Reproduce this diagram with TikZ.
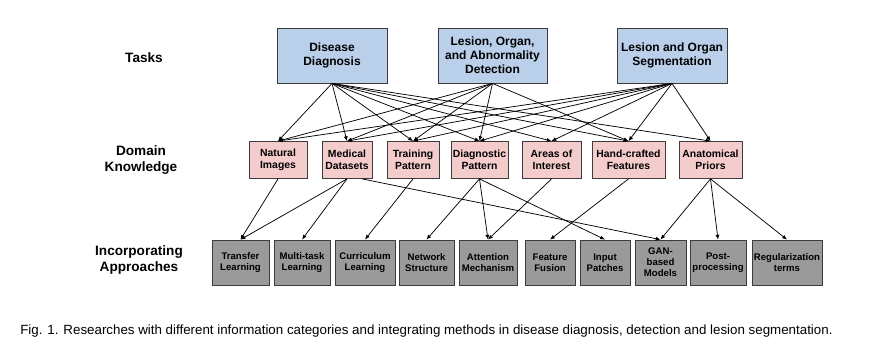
\documentclass[tikz,border=0pt]{standalone}
\usepackage{fontspec}
\setmainfont{Liberation Sans}
\usetikzlibrary{arrows.meta,calc}
\definecolor{taskblue}{HTML}{BACFEA}
\definecolor{knowpink}{HTML}{F4CCCC}
\definecolor{appgray}{HTML}{9A9A9A}
\definecolor{boxline}{HTML}{3C3C3C}
\begin{document}
\begin{tikzpicture}[x=0.75pt,y=-0.75pt,
  basebox/.style={draw=boxline, line width=0.6pt, inner sep=0pt, align=center},
  taskbox/.style={basebox, fill=taskblue, minimum height=55*0.75pt, font=\bfseries\fontsize{9}{10.5}\selectfont},
  knowbox/.style={basebox, fill=knowpink, minimum height=37*0.75pt, font=\bfseries\fontsize{7.8}{8.8}\selectfont},
  appbox/.style={basebox, fill=appgray, minimum height=45*0.75pt, font=\bfseries\fontsize{7.2}{8.3}\selectfont},
  rowlabel/.style={align=center, font=\bfseries\fontsize{10.2}{12.5}\selectfont},
  conn/.style={-{Latex[length=3.6pt,width=3pt]}, line width=0.55pt, black}
]
\fill[white] (0,0) rectangle (881,354);
\useasboundingbox (0,0) rectangle (881,354);

% row labels
\node[rowlabel] (lt) at (144,58) {Tasks};
\node[rowlabel] (lk) at (141,160) {Domain\\Knowledge};
\node[rowlabel] (la) at (139,260) {Incorporating\\Approaches};

% tasks
\node[taskbox, minimum width=110*0.75pt] (dd) at (332,55.5) {Disease\\Diagnosis};
\node[taskbox, minimum width=109*0.75pt] (lod) at (492.5,55.5) {Lesion, Organ,\\and Abnormality\\Detection};
\node[taskbox, minimum width=110*0.75pt] (seg) at (672,55.5) {Lesion and Organ\\Segmentation};

% domain knowledge
\node[knowbox, minimum width=58*0.75pt] (nat) at (278,160) {Natural\\Images};
\node[knowbox, minimum width=50*0.75pt] (med) at (347,160) {Medical\\Datasets};
\node[knowbox, minimum width=52*0.75pt] (trn) at (413,160) {Training\\Pattern};
\node[knowbox, minimum width=57*0.75pt] (dia) at (479.5,160) {Diagnostic\\Pattern};
\node[knowbox, minimum width=59*0.75pt] (aoi) at (551.5,160) {Areas of\\Interest};
\node[knowbox, minimum width=73*0.75pt] (hcf) at (628.5,160) {Hand-crafted\\Features};
\node[knowbox, minimum width=63*0.75pt] (ana) at (710.5,160) {Anatomical\\Priors};

% approaches
\node[appbox, minimum width=57*0.75pt] (tl) at (240.5,262.5) {Transfer\\Learning};
\node[appbox, minimum width=56*0.75pt] (mtl) at (302,262.5) {Multi-task\\Learning};
\node[appbox, minimum width=60*0.75pt] (cl) at (365,262.5) {Curriculum\\Learning};
\node[appbox, minimum width=55*0.75pt] (ns) at (426.5,262.5) {Network\\Structure};
\node[appbox, minimum width=58*0.75pt] (am) at (488,262.5) {Attention\\Mechanism};
\node[appbox, minimum width=50*0.75pt] (ff) at (550,262.5) {Feature\\Fusion};
\node[appbox, minimum width=50*0.75pt] (ip) at (605,262.5) {Input\\Patches};
\node[appbox, minimum width=51*0.75pt] (gan) at (660.5,262.5) {GAN-\\based\\Models};
\node[appbox, minimum width=56*0.75pt] (pp) at (718,262.5) {Post-\\processing};
\node[appbox, minimum width=70*0.75pt] (rt) at (787,262.5) {Regularization\\terms};

% tasks -> knowledge
\foreach \t in {nat,med,trn,dia,aoi,hcf,ana} \draw[conn] (dd.south) -- (\t.north);
\foreach \t in {nat,med,trn,dia,hcf} \draw[conn] (lod.south) -- (\t.north);
\foreach \t in {nat,med,trn,dia,aoi,hcf,ana} \draw[conn] (seg.south) -- (\t.north);

% knowledge -> approaches
\coordinate (medr) at ($(med.south)!0.6!(med.south east)$);
\draw[conn] (nat.south) -- (tl.north);
\draw[conn] (med.south) -- (tl.north);
\draw[conn] (med.south) -- (mtl.north);
\draw[conn] (medr) -- (gan.north);
\draw[conn] (trn.south) -- (cl.north);
\draw[conn] (dia.south) -- (ns.north);
\draw[conn] (dia.south) -- (am.north);
\draw[conn] (dia.south) -- (ip.north);
\draw[conn] (aoi.south) -- (am.north);
\draw[conn] (hcf.south) -- (ff.north);
\draw[conn] (ana.south) -- (gan.north);
\draw[conn] (ana.south) -- (pp.north);
\draw[conn] (ana.south) -- (rt.north);

% caption
\node[anchor=base west, inner sep=0pt, font=\fontsize{10}{12}\selectfont] (cap) at (20,334)
  {Fig. 1. Researches with different information categories and integrating methods in disease diagnosis, detection and lesion segmentation.};
\end{tikzpicture}
\end{document}
